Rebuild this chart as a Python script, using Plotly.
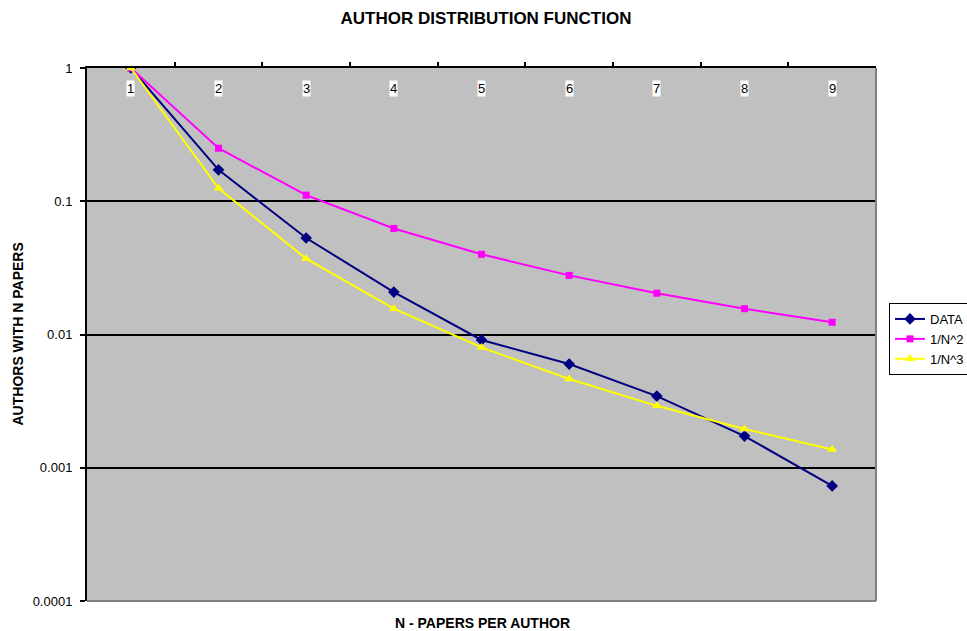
import plotly.graph_objects as go

n_papers = [1, 2, 3, 4, 5, 6, 7, 8, 9]
data_vals = [1.0, 0.172, 0.053, 0.0208, 0.0091, 0.0060, 0.00345, 0.00173, 0.00073]
inv_n2 = [1.0, 0.25, 0.1111, 0.0625, 0.04, 0.02778, 0.02041, 0.015625, 0.012346]
inv_n3 = [1.0, 0.125, 0.03704, 0.015625, 0.008, 0.00463, 0.002915, 0.001953, 0.001372]
y_tickvals = [0.0001, 0.001, 0.01, 0.1, 1]
y_ticktext = ["0.0001", "0.001", "0.01", "0.1", "1"]

W, H = 967, 631

fig = go.Figure()
fig.add_trace(go.Scatter(x=n_papers, y=data_vals, name="DATA", mode="lines+markers",
                         line=dict(color="#000080", width=2),
                         marker=dict(symbol="diamond", size=9, color="#000080")))
fig.add_trace(go.Scatter(x=n_papers, y=inv_n2, name="1/N^2", mode="lines+markers",
                         line=dict(color="#FF00FF", width=2),
                         marker=dict(symbol="square", size=7, color="#FF00FF")))
fig.add_trace(go.Scatter(x=n_papers, y=inv_n3, name="1/N^3", mode="lines+markers",
                         line=dict(color="#FFFF00", width=2),
                         marker=dict(symbol="triangle-up", size=9, color="#FFFF00")))

for n in n_papers:
    fig.add_annotation(x=n, y=1, xref="x", yref="paper", text=str(n), showarrow=False,
                       yanchor="top", yshift=-12, bgcolor="white", borderpad=0,
                       font=dict(family="Liberation Sans, Arial", size=13, color="black"))

# right and bottom gray borders
fig.add_shape(type="line", xref="paper", yref="paper", x0=1, x1=1, y0=0, y1=1,
              line=dict(color="#808080", width=2))
fig.add_shape(type="line", xref="paper", yref="paper", x0=0, x1=1, y0=0, y1=0,
              line=dict(color="#808080", width=2))

fig.update_layout(
    width=W, height=H,
    margin=dict(l=87, r=91, t=68, b=30),
    paper_bgcolor="white", plot_bgcolor="#C0C0C0",
    font=dict(family="Liberation Sans, Arial", size=13, color="black"),
    title=dict(text="<b>AUTHOR DISTRIBUTION FUNCTION</b>", x=486 / W, xanchor="center",
               y=1 - 18 / H, yanchor="middle", font=dict(size=17)),
    xaxis=dict(range=[0.5, 9.5], side="top", showticklabels=False, ticks="",
               showgrid=False, zeroline=False, showline=True, linecolor="black", linewidth=2,
               minor=dict(tickvals=[1.5, 2.5, 3.5, 4.5, 5.5, 6.5, 7.5, 8.5], ticks="outside",
                          ticklen=4, tickwidth=2, tickcolor="black", showgrid=False),
               title=None),
    yaxis=dict(type="log", range=[-4, 0], tickvals=y_tickvals, ticktext=y_ticktext,
               ticks="outside", ticklen=5, tickwidth=2, tickcolor="black",
               ticklabelstandoff=5, tickfont=dict(size=13),
               showgrid=True, gridcolor="black", gridwidth=2,
               showline=True, linecolor="black", linewidth=2, zeroline=False,
               title=None),
    legend=dict(xref="container", yref="container",
                x=889 / W, y=1 - 303 / H, xanchor="left", yanchor="top",
                bgcolor="white", bordercolor="black", borderwidth=1,
                font=dict(size=13), tracegroupgap=0, itemwidth=30),
    showlegend=True,
)

fig.add_annotation(text="<b>AUTHORS WITH N PAPERS</b>", xref="paper", yref="paper",
                   x=0, y=0.5, xshift=-(87 - 17), textangle=-90, showarrow=False,
                   xanchor="center", yanchor="middle", font=dict(size=14))
fig.add_annotation(text="<b>N - PAPERS PER AUTHOR</b>", xref="paper", yref="paper",
                   x=(483 - 87) / 789, y=0, yshift=-22, showarrow=False, yanchor="middle",
                   font=dict(size=14))

fig.write_html("out.html", config={"displayModeBar": False},
               post_script="document.body.style.margin='0';document.body.style.overflow='hidden';")
